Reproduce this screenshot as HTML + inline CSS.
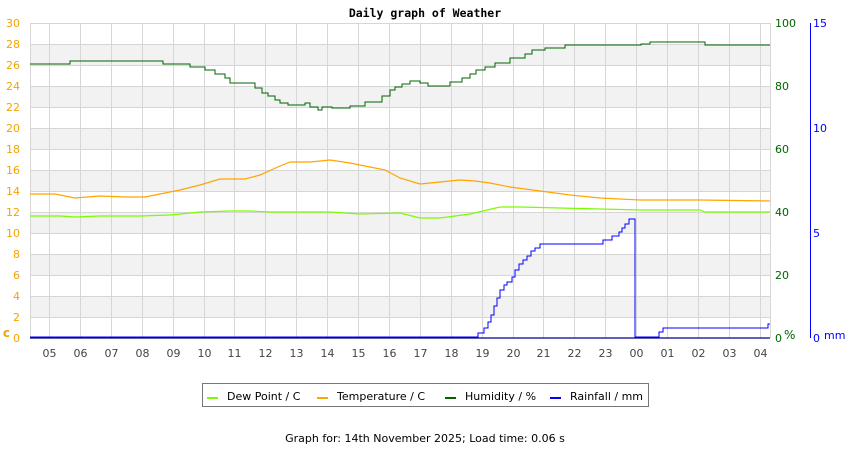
<!DOCTYPE html>
<html><head><meta charset="utf-8"><style>
body{margin:0;background:#fff;width:850px;height:450px;overflow:hidden}
text{font-family:"DejaVu Sans","Liberation Sans",sans-serif;font-size:11px}
</style></head><body>
<svg width="850" height="450" xmlns="http://www.w3.org/2000/svg">
<text x="425" y="17" text-anchor="middle" font-weight="bold" fill="#000" style="font-family:'DejaVu Sans Mono','Liberation Mono',monospace;font-size:11.5px">Daily graph of Weather</text>
<g fill="#f2f2f2">
<rect x="30" y="296" width="740" height="21"/><rect x="30" y="254" width="740" height="21"/>
<rect x="30" y="212" width="740" height="21"/><rect x="30" y="170" width="740" height="21"/>
<rect x="30" y="128" width="740" height="21"/><rect x="30" y="86" width="740" height="21"/>
<rect x="30" y="44" width="740" height="21"/>
</g>
<g stroke="#d6d6d6" stroke-width="1">
<line x1="30" x2="770" y1="317.5" y2="317.5"/><line x1="30" x2="770" y1="296.5" y2="296.5"/>
<line x1="30" x2="770" y1="275.5" y2="275.5"/><line x1="30" x2="770" y1="254.5" y2="254.5"/>
<line x1="30" x2="770" y1="233.5" y2="233.5"/><line x1="30" x2="770" y1="212.5" y2="212.5"/>
<line x1="30" x2="770" y1="191.5" y2="191.5"/><line x1="30" x2="770" y1="170.5" y2="170.5"/>
<line x1="30" x2="770" y1="149.5" y2="149.5"/><line x1="30" x2="770" y1="128.5" y2="128.5"/>
<line x1="30" x2="770" y1="107.5" y2="107.5"/><line x1="30" x2="770" y1="86.5" y2="86.5"/>
<line x1="30" x2="770" y1="65.5" y2="65.5"/><line x1="30" x2="770" y1="44.5" y2="44.5"/>
<line x1="30" x2="770" y1="23.5" y2="23.5"/>
<line x1="30.5" x2="30.5" y1="23" y2="338"/><line x1="770.5" x2="770.5" y1="23" y2="338"/>
</g>
<g stroke="#d6d6d6" id="vg"></g>
<g fill="#444" text-anchor="middle" id="xl"></g>
<g fill="#f5a300" text-anchor="end">
<text x="20" y="342">0</text><text x="20" y="321">2</text><text x="20" y="300">4</text><text x="20" y="279">6</text>
<text x="20" y="258">8</text><text x="20" y="237">10</text><text x="20" y="216">12</text><text x="20" y="195">14</text>
<text x="20" y="174">16</text><text x="20" y="153">18</text><text x="20" y="132">20</text><text x="20" y="111">22</text>
<text x="20" y="90">24</text><text x="20" y="69">26</text><text x="20" y="48">28</text><text x="20" y="27">30</text>
<text x="10" y="337" font-weight="bold" style="font-size:12px">c</text>
</g>
<g fill="#006400">
<text x="775" y="342">0</text><text x="784" y="339" style="font-size:12px">%</text>
<text x="775" y="279">20</text><text x="775" y="216">40</text><text x="775" y="153">60</text>
<text x="775" y="90">80</text><text x="775" y="27">100</text>
</g>
<line x1="810.5" x2="810.5" y1="23" y2="338" stroke="#0000ff"/>
<g fill="#0000ff">
<text x="813" y="342">0</text><text x="824" y="339">mm</text><text x="813" y="237">5</text>
<text x="813" y="132">10</text><text x="813" y="27">15</text>
</g>
<polyline fill="none" stroke="#7cfc00" stroke-width="1.2" points="30,216 60,216 75,217 100,216 140,216 170,215 200,212 230,211 250,211 270,212 300,212 330,212 360,214 400,213 420,218 440,218 470,214 500,207 520,207 560,208 600,209 640,210 700,210 705,212 770,212"/>
<polyline fill="none" stroke="#ffa500" stroke-width="1.2" points="30,194 55,194 75,198 100,196 125,197 145,197 160,194 180,190 200,185 220,179 245,179 260,175 280,166 290,162 310,162 330,160 350,163 370,167 385,170 400,178 420,184 440,182 460,180 475,181 490,183 510,187 540,191 570,195 600,198 640,200 700,200 770,201"/>
<polyline fill="none" stroke="#006400" stroke-width="1.3" shape-rendering="crispEdges" points="30,64 70,64 70,61 163,61 163,64 190,64 190,67 205,67 205,70 215,70 215,74 225,74 225,78 230,78 230,83 255,83 255,88 262,88 262,93 268,93 268,96 275,96 275,100 280,100 280,103 288,103 288,105 305,105 305,103 310,103 310,107 318,107 318,110 322,110 322,107 332,107 332,108 350,108 350,106 365,106 365,102 382,102 382,96 390,96 390,90 395,90 395,87 402,87 402,84 410,84 410,81 420,81 420,83 428,83 428,86 450,86 450,82 462,82 462,78 470,78 470,74 476,74 476,70 485,70 485,67 495,67 495,63 510,63 510,58 525,58 525,54 532,54 532,50 545,50 545,48 565,48 565,45 641,45 641,44 650,44 650,42 705,42 705,45 770,45"/>
<polyline fill="none" stroke="#0000ff" stroke-width="1.3" shape-rendering="crispEdges" points="30,337 478,337 478,333 484,333 484,328 488,328 488,322 491,322 491,315 494,315 494,306 497,306 497,298 500,298 500,290 504,290 504,285 507,285 507,282 512,282 512,277 515,277 515,270 519,270 519,264 523,264 523,260 527,260 527,256 531,256 531,251 535,251 535,248 540,248 540,244 603,244 603,240 612,240 612,236 619,236 619,232 622,232 622,228 625,228 625,224 629,224 629,219 635,219 635,337 659,337 659,332 663,332 663,328 768,328 768,324 770,324"/>
<line x1="30" x2="770" y1="338" y2="338" stroke="#00008b" stroke-width="1.3"/>
<rect x="202.5" y="383.5" width="446" height="23" fill="#fff" stroke="#777"/>
<g stroke-width="2">
<line x1="207" x2="218" y1="398" y2="398" stroke="#7cfc00"/>
<line x1="317" x2="328" y1="398" y2="398" stroke="#ffa500"/>
<line x1="445" x2="456" y1="398" y2="398" stroke="#006400"/>
<line x1="550" x2="561" y1="398" y2="398" stroke="#0000ff"/>
</g>
<g fill="#000">
<text x="227" y="400">Dew Point / C</text>
<text x="337" y="400">Temperature / C</text>
<text x="465" y="400">Humidity / %</text>
<text x="570" y="400">Rainfall / mm</text>
<text x="425" y="442" text-anchor="middle">Graph for: 14th November 2025; Load time: 0.06 s</text>
</g>
<script>
var hs=["05","06","07","08","09","10","11","12","13","14","15","16","17","18","19","20","21","22","23","00","01","02","03","04"];
var vg=document.getElementById("vg"),xl=document.getElementById("xl"),ns="http://www.w3.org/2000/svg";
for(var i=0;i<24;i++){var x=Math.round(49+i*30.9)+0.5;
var l=document.createElementNS(ns,"line");l.setAttribute("x1",x);l.setAttribute("x2",x);l.setAttribute("y1",23);l.setAttribute("y2",338);vg.appendChild(l);
var t=document.createElementNS(ns,"text");t.setAttribute("x",x);t.setAttribute("y",357);t.textContent=hs[i];xl.appendChild(t);}
</script>
</svg>
</body></html>
